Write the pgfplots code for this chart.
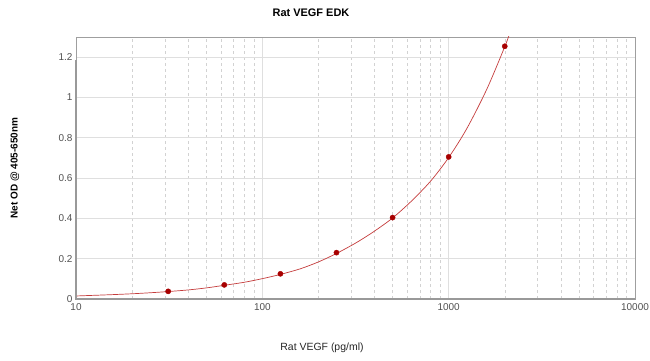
\documentclass[border=0pt]{standalone}
\usepackage{pgfplots}
\pgfplotsset{compat=1.18}
\usepackage{fontspec}
\setmainfont{Liberation Sans}
\definecolor{curvered}{HTML}{C43C3C}
\definecolor{markred}{HTML}{A80000}
\definecolor{ticktxt}{HTML}{505050}
\begin{document}
\begin{tikzpicture}[x=1bp,y=1bp]
\path[use as bounding box] (0,0) rectangle (650,360);
\begin{axis}[
  at={(76bp,61bp)}, anchor=south west,
  scale only axis, width=559bp, height=262bp,
  xmode=log, xmin=10, xmax=10000, ymin=0, ymax=1.3,
  log basis x=10,
  xtick={10,100,1000,10000},
  xticklabels={10,100,1000,10000},
  minor xtick={20,30,40,50,60,70,80,90,200,300,400,500,600,700,800,900,2000,3000,4000,5000,6000,7000,8000,9000},
  ytick={0,0.2,0.4,0.6,0.8,1,1.2},
  yticklabels={0,0.2,0.4,0.6,0.8,1,1.2},
  major tick length=0pt, minor tick length=0pt,
  xmajorgrids, ymajorgrids, xminorgrids,
  major grid style={draw=gray!25, line width=0.6bp},
  minor grid style={draw=gray!35, dashed, line width=0.5bp},
  axis line style={draw=gray!75, line width=0.8bp},
  tick label style={font=\fontsize{10}{12}\selectfont, text=ticktxt},
  xticklabel style={yshift=-1bp},
  clip=true,
]
\addplot[curvered, line width=0.7bp, smooth, no marks] coordinates {
(10,0.015) (15,0.021) (20,0.026) (25,0.031) (31.25,0.037) (40,0.045) (50,0.055)
(62.5,0.068) (80,0.083) (100,0.101) (125,0.122) (160,0.150) (200,0.184) (250,0.226)
(320,0.280) (400,0.337) (500,0.402) (630,0.485) (800,0.585) (1000,0.702)
(1250,0.845) (1600,1.040) (2000,1.252) (2150,1.33)
};
\addplot[only marks, mark=*, mark size=2.6bp, mark options={fill=markred, draw=markred}] coordinates {
(31.25,0.038) (62.5,0.070) (125,0.125) (250,0.230) (500,0.404) (1000,0.705) (2000,1.254)
};
\end{axis}
\draw[gray!80, line width=1.3bp] (76,299-262+263) -- (76,61) -- (635,61);
\node[font=\bfseries\fontsize{11}{13}\selectfont] at (311,347) {Rat VEGF EDK};
\node[font=\fontsize{10.5}{12}\selectfont, text=black!85] at (322,12) {Rat VEGF (pg/ml)};
\node[font=\bfseries\fontsize{10}{12}\selectfont, rotate=90] at (15,192) {Net OD @ 405-650nm};
\end{tikzpicture}
\end{document}
